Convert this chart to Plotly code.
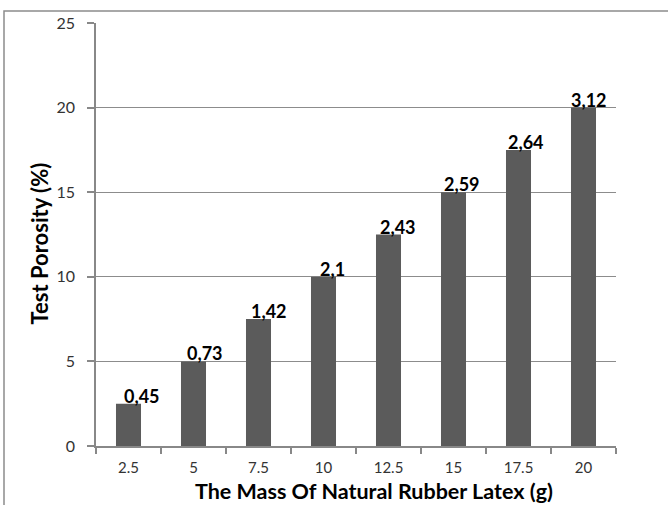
import plotly.graph_objects as go

categories = ["2.5", "5", "7.5", "10", "12.5", "15", "17.5", "20"]
bar_values = [2.5, 5, 7.5, 10, 12.5, 15, 17.5, 20]
labels = ["0,45", "0,73", "1,42", "2,1", "2,43", "2,59", "2,64", "3,12"]
y_ticks = [0, 5, 10, 15, 20, 25]
x_title = "The Mass Of Natural Rubber Latex (g)"
y_title = "Test Porosity (%)"

FONT = "Lato, 'Liberation Sans', sans-serif"
L, R, T, B = 96, 52, 23, 59
W, H = 668, 505
PW, PH = W - L - R, H - T - B

fig = go.Figure()
fig.add_trace(go.Bar(
    x=categories, y=bar_values,
    marker=dict(color="#5b5b5b", line=dict(width=0)),
    hoverinfo="skip",
))

label_shift = [13, 11, 10, 9, 9, 8, 7, 5]
for i, (v, t, s) in enumerate(zip(bar_values, labels, label_shift)):
    fig.add_annotation(
        x=i, y=v, text="<b>%s</b>" % t, showarrow=False,
        xanchor="center", yanchor="bottom", xshift=s, yshift=-5,
        font=dict(family=FONT, size=18, color="#000000"),
    )

# axis titles
fig.add_annotation(
    xref="paper", yref="paper", x=(373.5 - L) / PW, y=(446 - 491) / PH,
    text="<b>%s</b>" % x_title, showarrow=False,
    xanchor="center", yanchor="middle",
    font=dict(family=FONT, size=21.5, color="#000000"),
)
fig.add_annotation(
    xref="paper", yref="paper", x=(38.5 - L) / PW, y=(446 - 244) / PH,
    text="<b>%s</b>" % y_title, showarrow=False, textangle=-90,
    xanchor="center", yanchor="middle",
    font=dict(family=FONT, size=22, color="#000000"),
)

# outer chart border
fig.add_shape(type="rect", xref="paper", yref="paper",
              x0=(4 - L) / PW, x1=1.3, y0=-0.3, y1=(446 - 11) / PH,
              line=dict(color="#8c8c8c", width=1.5), layer="below")

fig.update_layout(
    width=W, height=H,
    margin=dict(l=L, r=R, t=T, b=B, autoexpand=False),
    paper_bgcolor="white", plot_bgcolor="white",
    showlegend=False,
    bargap=0.615,
    font=dict(family=FONT, size=16, color="#333333"),
    xaxis=dict(
        type="category", range=[-0.5, 7.5], autorange=False,
        showline=True, linecolor="#888888", linewidth=1.5,
        ticks="outside", ticklen=6, tickcolor="#888888", tickwidth=1.5,
        tickson="boundaries", tickangle=0,
        showgrid=False,
        tickfont=dict(family=FONT, size=15, color="#333333"),
        ticklabelstandoff=7,
    ),
    yaxis=dict(
        range=[0, 25], autorange=False, tickvals=y_ticks,
        showline=True, linecolor="#888888", linewidth=1.5,
        ticks="outside", ticklen=7, tickcolor="#888888", tickwidth=1.5,
        showgrid=True, gridcolor="#8c8c8c", gridwidth=1.2,
        zeroline=False,
        tickfont=dict(family=FONT, size=16, color="#333333"),
        ticklabelstandoff=9,
    ),
)

fig.write_html("out.html", config={"displayModeBar": False},
               post_script="document.body.style.margin='0';")
